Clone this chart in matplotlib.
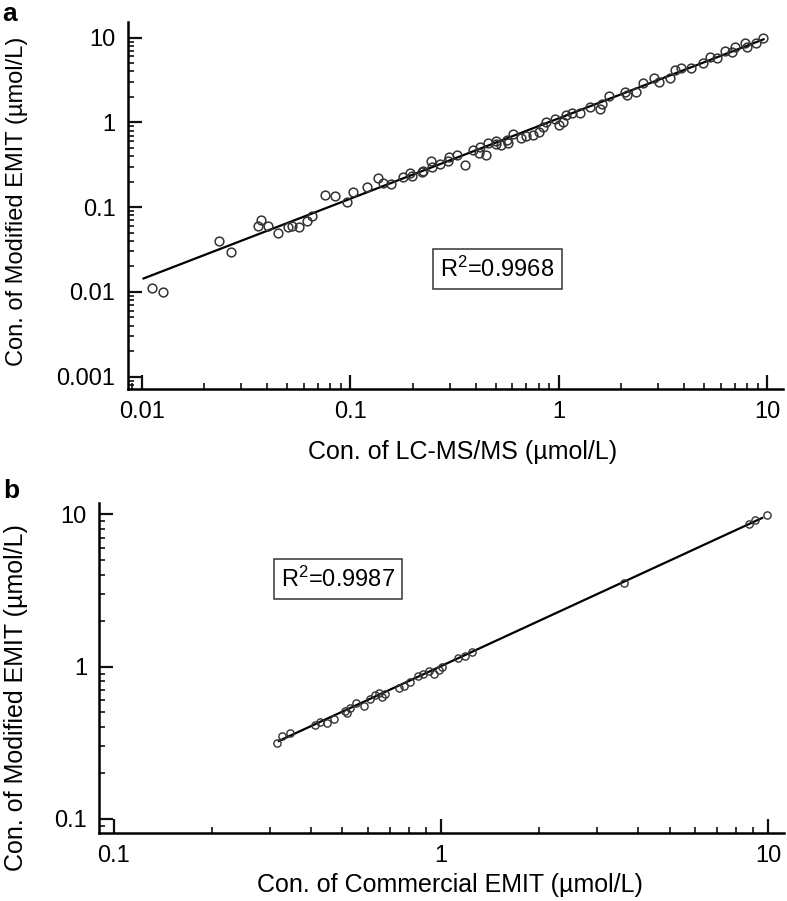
import matplotlib
matplotlib.use("Agg")
import matplotlib.pyplot as plt
from matplotlib import ticker

plt.rcParams["font.family"] = ["Liberation Sans", "DejaVu Sans"]
plt.rcParams["mathtext.default"] = "regular"

# Panel a: LC-MS/MS vs modified EMIT (umol/L)
lcms_x = [0.0112, 0.0127, 0.0235, 0.0269, 0.0360, 0.0373, 0.0402, 0.0452, 0.0505, 0.0524,
          0.0569, 0.0617, 0.0658, 0.0757, 0.0845, 0.096, 0.1035, 0.1197, 0.136, 0.1436,
          0.157, 0.179, 0.194, 0.221, 0.245, 0.27, 0.298, 0.324, 0.355, 0.387,
          0.419, 0.448, 0.457, 0.499, 0.527, 0.569, 0.604, 0.70, 0.75, 0.839,
          0.87, 0.963, 1.0, 1.08, 1.16, 1.27, 1.42, 1.58, 1.62, 1.74,
          2.09, 2.13, 2.35, 2.54, 2.87, 3.04, 3.43, 3.62, 3.87, 4.33,
          4.90, 5.33, 5.73, 6.24, 6.76, 7.0, 7.8, 8.0, 8.8, 9.5,
          0.197, 0.224, 0.246, 0.296, 0.413, 0.502, 0.563, 0.66, 0.80, 1.05]
emit_a_y = [0.011, 0.0100, 0.040, 0.0297, 0.0598, 0.0703, 0.0598, 0.0498, 0.0587, 0.060,
            0.0587, 0.069, 0.078, 0.139, 0.136, 0.116, 0.151, 0.174, 0.218, 0.194,
            0.187, 0.224, 0.25, 0.261, 0.352, 0.322, 0.386, 0.41, 0.313, 0.471,
            0.507, 0.41, 0.574, 0.602, 0.54, 0.565, 0.728, 0.689, 0.708, 0.887,
            1.02, 1.085, 0.93, 1.22, 1.28, 1.28, 1.50, 1.42, 1.64, 2.04,
            2.30, 2.10, 2.30, 2.93, 3.30, 3.01, 3.30, 4.14, 4.34, 4.41,
            4.97, 5.84, 5.69, 7.0, 6.82, 7.8, 8.7, 7.8, 8.7, 9.8,
            0.235, 0.27, 0.30, 0.35, 0.44, 0.55, 0.62, 0.66, 0.78, 1.02]
fit_a_x = [0.0102, 9.6]
fit_a_y = [0.0144, 9.55]
r2_a = "0.9968"

# Panel b: commercial EMIT vs modified EMIT (umol/L)
comm_x = [0.317, 0.328, 0.346, 0.412, 0.427, 0.450, 0.471, 0.509, 0.518, 0.528,
          0.551, 0.582, 0.607, 0.629, 0.647, 0.663, 0.675, 0.745, 0.772, 0.805,
          0.849, 0.881, 0.921, 0.954, 0.99, 1.01, 1.125, 1.19, 1.25, 3.63,
          8.77, 9.1, 9.9]
emit_b_y = [0.315, 0.348, 0.369, 0.414, 0.435, 0.429, 0.451, 0.513, 0.493, 0.531,
            0.573, 0.550, 0.608, 0.648, 0.671, 0.632, 0.658, 0.727, 0.742, 0.791,
            0.861, 0.887, 0.933, 0.896, 0.951, 1.0, 1.138, 1.179, 1.24, 3.56,
            8.64, 9.1, 9.87]
fit_b_x = [0.32, 9.6]
fit_b_y = [0.325, 9.45]
r2_b = "0.9987"


def style_axis(ax, xlim, ylim):
    ax.set_xscale("log")
    ax.set_yscale("log")
    ax.set_xlim(*xlim)
    ax.set_ylim(*ylim)
    for s in ["top", "right"]:
        ax.spines[s].set_visible(False)
    for s in ["left", "bottom"]:
        ax.spines[s].set_linewidth(1.8)
    fmt = ticker.FuncFormatter(lambda v, p: f"{v:g}")
    for axis in (ax.xaxis, ax.yaxis):
        axis.set_major_locator(ticker.LogLocator(base=10, numticks=20))
        axis.set_minor_locator(ticker.LogLocator(base=10, subs=range(2, 10), numticks=20))
        axis.set_major_formatter(fmt)
        axis.set_minor_formatter(ticker.NullFormatter())
    ax.tick_params(which="major", direction="in", length=10, width=1.6,
                   labelsize=17, pad=9, color="#111111")
    ax.tick_params(which="minor", direction="in", length=4.5, width=1.2, color="#111111")


fig = plt.figure(figsize=(7.87, 9.01), dpi=100)

# panel a
ax_a = fig.add_axes([0.1626, 0.5683, 0.8323, 0.4073])
style_axis(ax_a, (0.00859, 11.9), (0.000716, 15.3))
ax_a.plot(fit_a_x, fit_a_y, color="black", lw=1.6, zorder=2)
ax_a.plot(lcms_x, emit_a_y, "o", mfc="none", mec="#333333", ms=6.3, mew=1.1, zorder=3)
ax_a.set_xlabel("Con. of LC-MS/MS (µmol/L)", fontsize=18)
ax_a.set_ylabel("Con. of Modified EMIT (µmol/L)", fontsize=17)
ax_a.xaxis.set_label_coords(0.511, -0.139)
ax_a.yaxis.set_label_coords(-0.153, 0.51)
ax_a.text(0.564, 0.327, "R$^2$=" + r2_a, transform=ax_a.transAxes, fontsize=17,
          ha="center", va="center",
          bbox=dict(boxstyle="square,pad=0.3", fc="white", ec="#333333", lw=1.1))

# panel b
ax_b = fig.add_axes([0.1264, 0.0755, 0.8698, 0.3666])
style_axis(ax_b, (0.0906, 11.19), (0.0809, 11.9))
ax_b.plot(fit_b_x, fit_b_y, color="black", lw=1.6, zorder=2)
ax_b.plot(comm_x, emit_b_y, "o", mfc="none", mec="#333333", ms=5.2, mew=1.0, zorder=3)
ax_b.set_xlabel("Con. of Commercial EMIT (µmol/L)", fontsize=18)
ax_b.set_ylabel("Con. of Modified EMIT (µmol/L)", fontsize=18)
ax_b.xaxis.set_label_coords(0.512, -0.121)
ax_b.yaxis.set_label_coords(-0.104, 0.41)
ax_b.text(0.348, 0.769, "R$^2$=" + r2_b, transform=ax_b.transAxes, fontsize=17,
          ha="center", va="center",
          bbox=dict(boxstyle="square,pad=0.3", fc="white", ec="#333333", lw=1.1))

fig.text(0.003, 1 - 2 / 901, "a", fontsize=19, fontweight="bold", ha="left", va="top")
fig.text(0.004, 1 - 479 / 901, "b", fontsize=19, fontweight="bold", ha="left", va="top")

fig.savefig("out.png", dpi=100)
plt.close(fig)
